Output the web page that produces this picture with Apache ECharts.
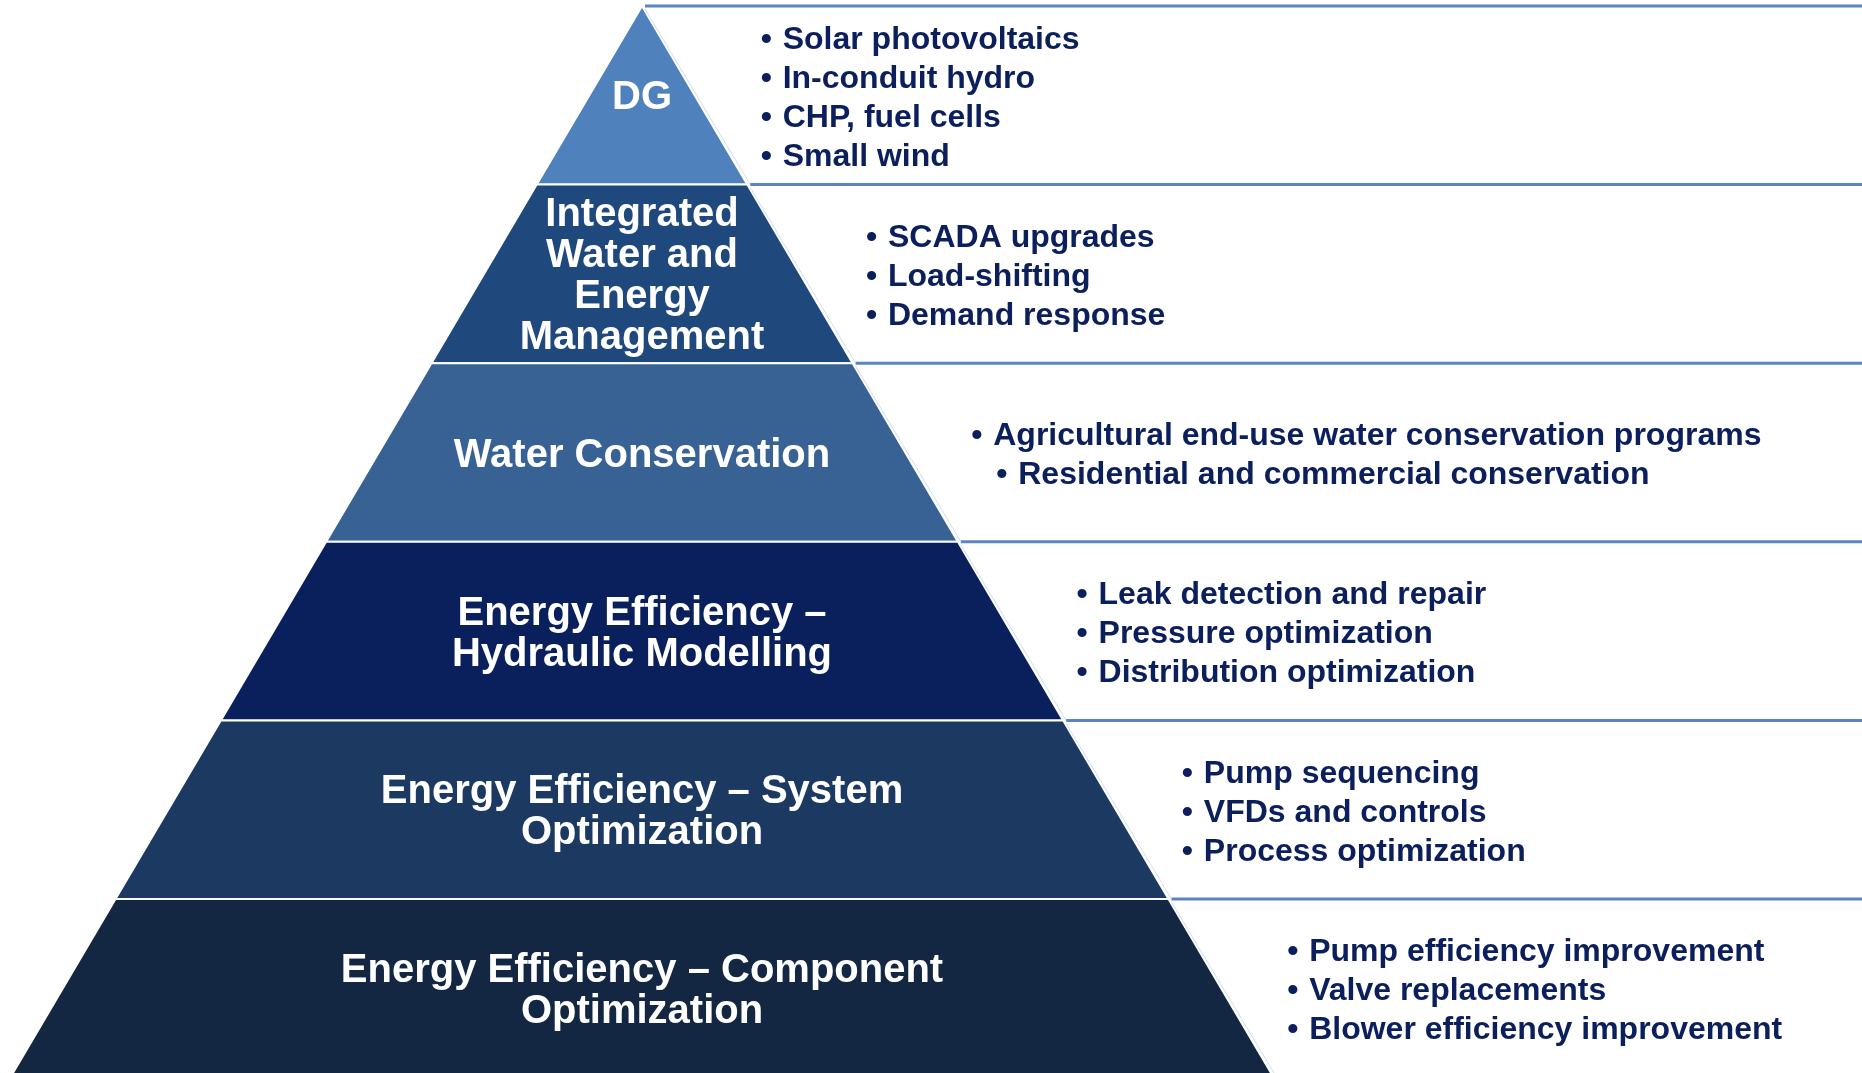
<!DOCTYPE html>
<html><head><meta charset="utf-8">
<script src="https://cdn.jsdelivr.net/npm/echarts@6/dist/echarts.min.js"></script>
<style>html,body{margin:0;padding:0;background:#fff}#c{width:1862px;height:1073px}</style>
</head><body><div id="c"></div>
<script>
// Pyramid layers, top to bottom
const layerNames = [
  'DG',
  'Integrated\nWater and\nEnergy\nManagement',
  'Water Conservation',
  'Energy Efficiency –\nHydraulic Modelling',
  'Energy Efficiency – System\nOptimization',
  'Energy Efficiency – Component\nOptimization'
];
// bottom level (half-width units) of each layer; the apex is level 0
const layerLevels = [1, 2, 3, 4, 5, 6];
const layerBullets = [
  ['Solar photovoltaics', 'In-conduit hydro', 'CHP, fuel cells', 'Small wind'],
  ['SCADA upgrades', 'Load-shifting', 'Demand response'],
  ['Agricultural end-use water conservation programs', 'Residential and commercial conservation'],
  ['Leak detection and repair', 'Pressure optimization', 'Distribution optimization'],
  ['Pump sequencing', 'VFDs and controls', 'Process optimization'],
  ['Pump efficiency improvement', 'Valve replacements', 'Blower efficiency improvement']
];

// styles
const layerColors = ['#4f81bd', '#1f497d', '#386293', '#0a205d', '#1b3961', '#132742'];
const lineColor = '#5a86c0';
const bulletColor = '#0b1f5c';
const FONT = '"Liberation Sans", Arial, sans-serif';
const X_MIN = -6.097, X_MAX = 11.586;
const Y_VISIBLE_MAX = 5.974; // the pyramid base runs slightly past the bottom edge
const TEXT_DY = 3;
const bulletIndent = {2: [0, 25]};

const chart = echarts.init(document.getElementById('c'), null, {renderer: 'canvas'});
const data = layerLevels.map((lv, i) => [i === 0 ? 0 : layerLevels[i - 1], lv, i]);

const option = {
  animation: false,
  backgroundColor: '#ffffff',
  grid: {left: 0, right: 0, top: 6, bottom: 0},
  xAxis: {type: 'value', min: X_MIN, max: X_MAX, show: false},
  yAxis: {type: 'value', min: 0, max: Y_VISIBLE_MAX, inverse: true, show: false},
  series: [{
    type: 'custom',
    clip: false,
    data: data,
    renderItem: function (params, api) {
      const t = api.value(0), b = api.value(1), i = api.value(2);
      const p1 = api.coord([-t, t]), p2 = api.coord([t, t]);
      const p3 = api.coord([b, b]), p4 = api.coord([-b, b]);
      const mid = (t + b) / 2;
      const c = api.coord([0, mid]);
      const edge = api.coord([mid, mid]);
      const right = api.coord([X_MAX, t]);
      const children = [];
      children.push({
        type: 'polygon',
        shape: {points: [p1, p2, p3, p4]},
        style: {fill: layerColors[i], stroke: '#ffffff', lineWidth: 2}
      });
      children.push({
        type: 'line',
        shape: {x1: p2[0] + 3, y1: p2[1] + 3, x2: p3[0] + 3, y2: p3[1]},
        style: {stroke: '#d3def0', lineWidth: 1}
      });
      children.push({
        type: 'line',
        shape: {x1: p2[0] + 3, y1: p2[1], x2: right[0], y2: right[1]},
        style: {stroke: lineColor, lineWidth: 3}
      });
      children.push({
        type: 'text',
        x: c[0], y: c[1] + TEXT_DY,
        style: {
          text: layerNames[i], fill: '#ffffff',
          fontFamily: FONT, fontWeight: 'bold', fontSize: 40, lineHeight: 41,
          align: 'center', verticalAlign: 'middle'
        }
      });
      const items = layerBullets[i];
      const n = items.length;
      const lh = 39;
      const tx = edge[0] + 88;
      items.forEach(function (s, k) {
        const y = c[1] + TEXT_DY + (k - (n - 1) / 2) * lh;
        const ind = bulletIndent[i] ? bulletIndent[i][k] : 0;
        children.push({
          type: 'text', x: tx - 22 + ind, y: y,
          style: {text: '•', fill: bulletColor, fontFamily: FONT, fontWeight: 'bold', fontSize: 32,
                  align: 'left', verticalAlign: 'middle'}
        });
        children.push({
          type: 'text', x: tx + ind, y: y,
          style: {text: s, fill: bulletColor, fontFamily: FONT, fontWeight: 'bold', fontSize: 32,
                  align: 'left', verticalAlign: 'middle'}
        });
      });
      return {type: 'group', children: children};
    }
  }]
};
chart.setOption(option);
</script>
</body></html>
